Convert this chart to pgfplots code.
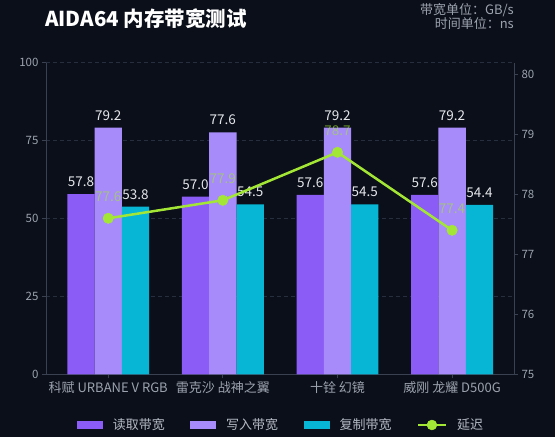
\documentclass[border=0pt]{standalone}
\usepackage{fontspec}
\setmainfont{Noto Sans CJK SC}
\usepackage{pgfplots}
\pgfplotsset{compat=1.18}
\definecolor{bg}{HTML}{0B0F19}
\definecolor{cread}{HTML}{8B5CF6}
\definecolor{cwrite}{HTML}{A78BFA}
\definecolor{ccopy}{HTML}{06B6D4}
\definecolor{clat}{HTML}{A3E635}
\definecolor{tickc}{HTML}{9CA3AF}
\definecolor{legc}{HTML}{B4BAC4}
\definecolor{axisc}{HTML}{3A4252}
\definecolor{gridc}{HTML}{272E3D}
\definecolor{labc}{HTML}{E5E7EB}
\newcommand\fs[1]{\fontsize{#1}{#1}\selectfont}
\begin{document}
\begin{tikzpicture}
\useasboundingbox (0,0) rectangle (555pt,437pt);
\fill[bg] (0,0) rectangle (555pt,437pt);
\node[anchor=west, text=white, font=\fs{20.5}\bfseries, inner sep=0pt] at (45pt,418pt) {AIDA64 内存带宽测试};
\node[anchor=east, text=tickc, font=\fs{13}, inner sep=0pt] at (514pt,427pt) {带宽单位：GB/s};
\node[anchor=east, text=tickc, font=\fs{13}, inner sep=0pt] at (514pt,413pt) {时间单位：ns};
\begin{axis}[
  at={(46pt,62.7pt)}, anchor=south west, scale only axis,
  width=468pt, height=311.6pt,
  xmin=-0.543, xmax=3.54, ymin=0, ymax=100,
  ybar=0pt, bar width=27.3pt,
  axis y line*=left, axis x line*=bottom,
  axis line style={axisc, line width=0.8pt},
  xtick={0,1,2,3},
  xticklabels={科赋 URBANE V RGB, 雷克沙 战神之翼, 十铨 幻镜, 威刚 龙耀 D500G},
  ytick={0,25,50,75,100},
  tick align=outside, major tick length=4pt,
  tick style={axisc, line width=0.8pt},
  x tick label style={font=\fs{13}, text=tickc},
  y tick label style={font=\fs{11.5}, text=tickc},
  ymajorgrids, grid style={gridc, dash pattern=on 4pt off 3pt, line width=0.8pt},
  /pgf/number format/assume math mode=true,
  nodes near coords={\pgfmathprintnumber[fixed,fixed zerofill,precision=1]{\pgfplotspointmeta}},
  every node near coord/.append style={font=\fs{13.5}, text=labc, yshift=3.8pt},
  legend columns=4,
  legend cell align=left,
  legend style={at={(0.5,0)}, anchor=center, yshift=-50.7pt, draw=none, fill=none,
    inner sep=0pt, text=legc, font=\fs{13}, nodes={inner sep=0pt},
    /tikz/every odd column/.append style={column sep=10pt},
    /tikz/every even column/.append style={column sep=25.3pt}},
]
\addplot[fill=cread, draw=none, legend image code/.code={\fill[cread] (0pt,-4pt) rectangle (26pt,4pt);}]
  coordinates {(0,57.8) (1,57.0) (2,57.6) (3,57.6)};
\addplot[fill=cwrite, draw=none, legend image code/.code={\fill[cwrite] (0pt,-4pt) rectangle (26pt,4pt);}]
  coordinates {(0,79.2) (1,77.6) (2,79.2) (3,79.2)};
\addplot[fill=ccopy, draw=none, legend image code/.code={\fill[ccopy] (0pt,-4pt) rectangle (26pt,4pt);}]
  coordinates {(0,53.8) (1,54.5) (2,54.5) (3,54.4)};
\addlegendimage{legend image code/.code={\draw[clat,line width=2.5pt] (0pt,0pt) -- (27.7pt,0pt); \fill[clat] (13.85pt,0pt) circle (5pt);}}
\legend{读取带宽,写入带宽,复制带宽,延迟}
\end{axis}
\begin{axis}[
  at={(46pt,62.7pt)}, anchor=south west, scale only axis,
  width=468pt, height=311.6pt,
  xmin=-0.543, xmax=3.54, ymin=75, ymax=80.193,
  axis y line*=right, axis x line=none, xtick=\empty,
  axis line style={axisc, line width=0.8pt},
  ytick={75,76,77,78,79,80},
  tick align=outside, major tick length=4pt,
  tick style={axisc, line width=0.8pt},
  y tick label style={font=\fs{11.5}, text=tickc},
  /pgf/number format/assume math mode=true,
]
\addplot[clat, line width=2.5pt, mark=*, mark size=5.2pt,
  mark options={fill=clat, draw=clat, line width=0.5pt},
  nodes near coords={\pgfmathprintnumber[fixed,fixed zerofill,precision=1]{\pgfplotspointmeta}},
  every node near coord/.append style={font=\fs{13.5}, text=clat, text opacity=0.6, yshift=12.8pt}]
  coordinates {(0,77.6) (1,77.9) (2,78.7) (3,77.4)};
\end{axis}
\end{tikzpicture}
\end{document}
